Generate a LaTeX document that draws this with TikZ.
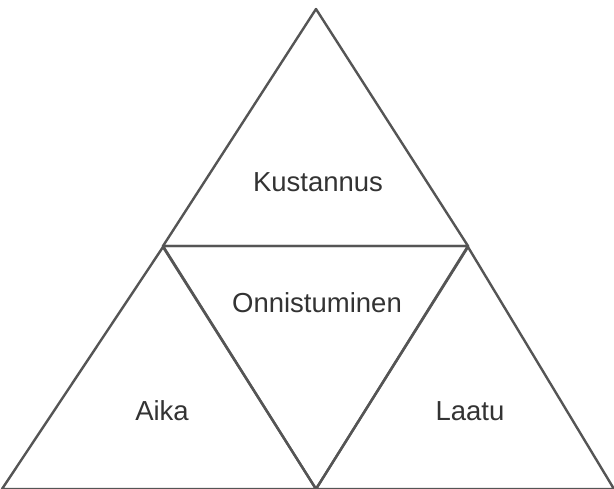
\documentclass[tikz,border=0pt]{standalone}
\usepackage{fontspec}
\setmainfont{Liberation Sans}
\usetikzlibrary{positioning}
\definecolor{edgegray}{HTML}{555555}
\definecolor{textgray}{HTML}{333333}
\tikzset{lbl/.style={text=textgray,font=\fontsize{27.5}{32}\selectfont}}

\begin{document}
\begin{tikzpicture}[x=1pt,y=-1pt,line width=2.4pt,line join=round]
\useasboundingbox (0,0) rectangle (614,488);
\coordinate (apex) at (316,9);\coordinate (ml) at (163,246);\coordinate (mr) at (468,246);
\coordinate (la) at (163,247);\coordinate (ra) at (468,247);
\coordinate (bl) at (2,489);\coordinate (bm) at (316,489);\coordinate (br) at (614,489);
\draw[edgegray] (apex)--(ml)--(mr)--cycle;
\draw[edgegray] (ml)--(mr)--(bm)--cycle;
\draw[edgegray] (la)--(bm)--(bl)--cycle;
\draw[edgegray] (ra)--(br)--(bm)--cycle;
\node[lbl] (kust) at (318,182){Kustannus};
\node[lbl] (onni) at (317,303){Onnistuminen};
\node[lbl] (aika) at (162,411){Aika};
\node[lbl] (laatu) at (470,411){Laatu};
\end{tikzpicture}
\end{document}
